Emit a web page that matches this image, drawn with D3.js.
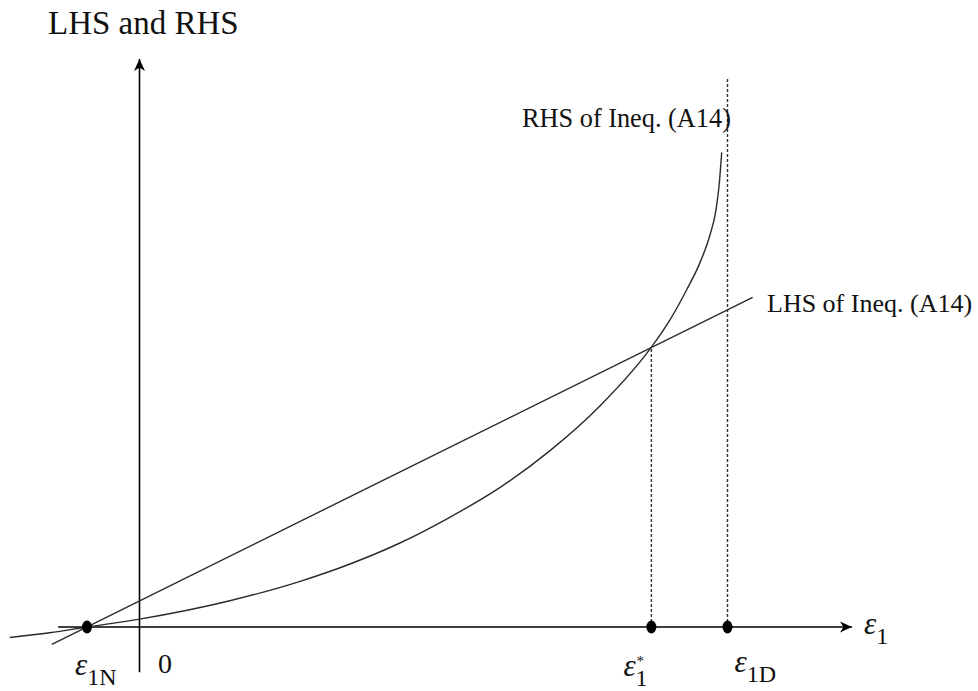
<!DOCTYPE html>
<html>
<head>
    <style>
        body { margin: 0; background: #fff; }
        svg text { font-family: "Liberation Serif", "DejaVu Serif", serif; fill: #111; }
        .curve { fill: none; stroke: #2a2a2a; stroke-width: 1.4px; }
        .axis-line { stroke: #000; stroke-width: 1.6px; }
        .guide { stroke: #333; stroke-width: 1.4px; stroke-dasharray: 3,2; }
        .eps { font-style: italic; }
    </style>
    <script src="https://d3js.org/d3.v7.min.js"></script>
</head>
<body>
    <svg width="978" height="691"></svg>
    <script>
        // values (x and y in the same arbitrary units)
        var rhsX = [-2.47, -1.71, -1.00, 0.00, 1.72, 3.06, 4.01, 4.96, 5.91, 6.87, 7.82, 8.77, 9.75, 10.11, 10.42, 10.68, 10.87, 10.98, 11.04, 11.09];
        var rhsY = [-0.20, -0.11, 0.00, 0.15, 0.50, 0.87, 1.20, 1.60, 2.09, 2.66, 3.36, 4.21, 5.33, 5.86, 6.42, 6.95, 7.48, 7.94, 8.41, 9.04];
        var lhsX = [-1.67, 11.68];
        var lhsY = [-0.33, 6.28];
        var pointNames = ["1N", "1*", "1D"];
        var pointX = [-1.00, 9.75, 11.20];
        var guideTop = [0, 5.32, 10.46];
        var xAxisExtent = [-1.55, 13.57];
        var yAxisExtent = [-0.86, 10.82];

        var svg = d3.select("svg");

        var x = d3.scaleLinear().domain([0, 10]).range([139.5, 664.5]);
        var y = d3.scaleLinear().domain([0, 10]).range([627, 102]);

        svg.append("defs").append("marker")
           .attr("id", "arrow")
           .attr("viewBox", "0 -6 12 12")
           .attr("refX", 12).attr("refY", 0)
           .attr("markerWidth", 12).attr("markerHeight", 12)
           .attr("markerUnits", "userSpaceOnUse")
           .attr("orient", "auto")
           .append("path")
           .attr("d", "M0,-5.5L12,0L0,5.5L3.5,0Z")
           .attr("fill", "#000");

        // axes
        svg.append("line").attr("class", "axis-line")
           .attr("x1", x(xAxisExtent[0])).attr("y1", y(0))
           .attr("x2", x(xAxisExtent[1])).attr("y2", y(0))
           .attr("marker-end", "url(#arrow)");
        svg.append("line").attr("class", "axis-line")
           .attr("x1", x(0)).attr("y1", y(yAxisExtent[0]))
           .attr("x2", x(0)).attr("y2", y(yAxisExtent[1]))
           .attr("marker-end", "url(#arrow)");

        // dashed guides
        svg.selectAll(".guide")
           .data(pointX.slice(1))
           .enter().append("line")
           .attr("class", "guide")
           .attr("x1", function(d) { return x(d); })
           .attr("x2", function(d) { return x(d); })
           .attr("y1", y(0))
           .attr("y2", function(d, i) { return y(guideTop[i + 1]); });

        var line = d3.line()
                     .x(function(d) { return x(d[0]); })
                     .y(function(d) { return y(d[1]); });

        svg.append("path").attr("class", "curve")
           .attr("d", line(d3.zip(lhsX, lhsY)));

        svg.append("path").attr("class", "curve")
           .attr("d", line.curve(d3.curveMonotoneX)(d3.zip(rhsX, rhsY)));

        // points on the axis
        svg.selectAll(".pt")
           .data(pointX)
           .enter().append("ellipse")
           .attr("class", "pt")
           .attr("cx", function(d) { return x(d); })
           .attr("cy", y(0))
           .attr("rx", 5).attr("ry", 6.5)
           .attr("fill", "#000");

        // labels
        svg.append("text").attr("x", 48).attr("y", 34)
           .style("font-size", "33px").text("LHS and RHS");
        svg.append("text").attr("x", 522).attr("y", 127)
           .style("font-size", "26.3px").text("RHS of Ineq. (A14)");
        svg.append("text").attr("x", 767).attr("y", 312)
           .style("font-size", "26px").text("LHS of Ineq. (A14)");
        svg.append("text").attr("x", 158).attr("y", 673)
           .style("font-size", "28px").text("0");

        function epsLabel(px, py, sub, star) {
            var t = svg.append("text").attr("x", px).attr("y", py);
            t.append("tspan").attr("class", "eps").style("font-size", "31px").text("ε");
            t.append("tspan").attr("dy", 10).style("font-size", "24px").text(sub);
            if (star) {
                t.append("tspan").attr("dx", -11).attr("dy", -20)
                 .style("font-size", "15px").text("*");
            }
        }

        epsLabel(x(xAxisExtent[1]) + 12, 634, "1", false);
        epsLabel(x(pointX[0]) - 12, 675, "1N", false);
        epsLabel(x(pointX[1]) - 28, 676, "1", true);
        epsLabel(x(pointX[2]) + 7, 672, "1D", false);
    </script>
</body>
</html>
